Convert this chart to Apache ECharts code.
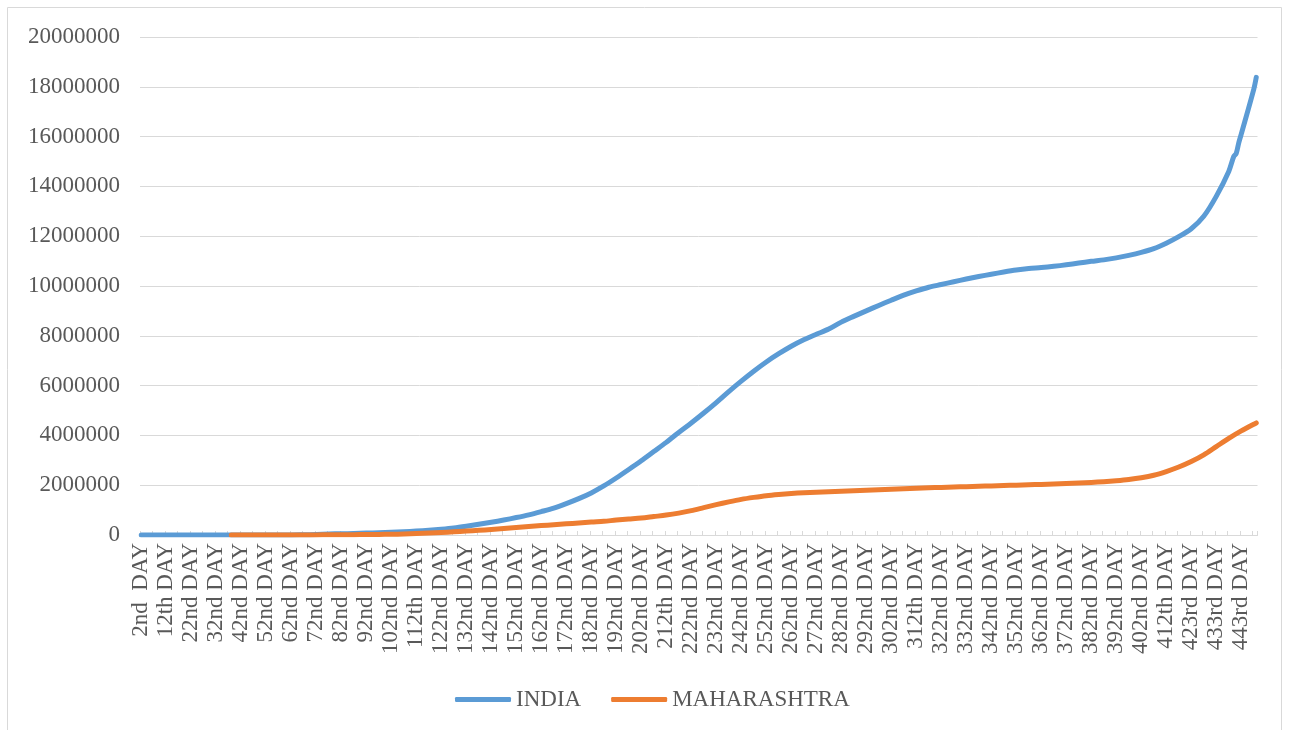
<!DOCTYPE html>
<html>
<head>
<meta charset="utf-8">
<script src="https://cdn.jsdelivr.net/npm/echarts@6/dist/echarts.min.js"></script>
<style>
  html, body { margin: 0; padding: 0; background: #fff; }
  #chart { width: 1289px; height: 730px; }
</style>
</head>
<body>
<div id="chart"></div>
<script>
// day numbers on the x axis (one day is missing between 412th and 423rd)
var dayNums = [];
for (var d = 2; d <= 449; d++) {
  if (d !== 413) dayNums.push(d);
}
function ordinal(n) {
  var t = n % 100;
  if (t >= 11 && t <= 13) return n + 'th';
  if (n % 10 === 1) return n + 'st';
  if (n % 10 === 2) return n + 'nd';
  if (n % 10 === 3) return n + 'rd';
  return n + 'th';
}
var days = dayNums.map(function (n) { return ordinal(n) + ' DAY'; });
days[0] = '2nd  DAY';

// INDIA at every 5th day (index into days)
var indiaIdx = [0, 5, 10, 15, 20, 25, 30, 35, 40, 45, 50, 55, 60, 65, 70, 75, 80, 85, 90, 95,
  100, 105, 110, 115, 120, 125, 130, 135, 140, 145, 150, 155, 160, 165, 170, 175, 180, 185, 190, 195,
  200, 205, 210, 215, 220, 225, 230, 235, 240, 245, 250, 255, 260, 265, 270, 275, 280, 285, 290, 295,
  300, 305, 310, 315, 320, 325, 330, 335, 340, 345, 350, 355, 360, 365, 370, 375, 380, 385, 390, 395,
  400, 405, 410, 415, 420, 425, 430, 435, 437, 438, 439, 440, 445, 446];
var indiaVals = [0, 0, 0, 0, 0, 0, 0, 0, 0, 0, 0, 0, 0, 10000, 20000, 40000, 50000, 60000, 80000, 90000,
  110000, 130000, 160000, 190000, 230000, 280000, 350000, 430000, 510000, 600000, 700000, 810000, 940000, 1080000, 1260000, 1460000, 1690000, 1970000, 2290000, 2630000,
  2980000, 3350000, 3720000, 4120000, 4500000, 4900000, 5320000, 5760000, 6180000, 6580000, 6950000, 7280000, 7580000, 7840000, 8060000, 8270000, 8550000, 8780000, 9000000, 9220000,
  9430000, 9630000, 9800000, 9950000, 10060000, 10170000, 10280000, 10380000, 10470000, 10560000, 10640000, 10700000, 10740000, 10790000, 10850000, 10920000, 10990000, 11050000, 11130000, 11230000,
  11350000, 11500000, 11720000, 11980000, 12300000, 12800000, 13600000, 14600000, 15200000, 15330000, 15750000, 16100000, 17900000, 18380000];

// MAHARASHTRA, starts later
var mhIdx = [36, 40, 45, 50, 55, 60, 65, 70, 75, 80, 85, 90, 95,
  100, 105, 110, 115, 120, 125, 130, 135, 140, 145, 150, 155, 160, 165, 170, 175, 180, 185, 190, 195,
  200, 205, 210, 215, 220, 225, 230, 235, 240, 245, 250, 255, 260, 265, 270, 275, 280, 285, 290, 295,
  300, 305, 310, 315, 320, 325, 330, 335, 340, 345, 350, 355, 360, 365, 370, 375, 380, 385, 390, 395,
  400, 405, 410, 415, 420, 425, 430, 435, 440, 445, 446];
var mhVals = [0, 0, 0, 0, 0, 2000, 3000, 5000, 8000, 10000, 15000, 20000, 25000,
  30000, 40000, 60000, 80000, 100000, 130000, 160000, 190000, 220000, 260000, 300000, 340000, 380000, 410000, 450000, 480000, 520000, 550000, 600000, 640000,
  680000, 740000, 800000, 880000, 980000, 1100000, 1220000, 1330000, 1430000, 1510000, 1580000, 1630000, 1670000, 1700000, 1720000, 1740000, 1760000, 1780000, 1800000, 1820000,
  1840000, 1860000, 1880000, 1900000, 1910000, 1930000, 1940000, 1960000, 1970000, 1990000, 2000000, 2020000, 2030000, 2050000, 2070000, 2090000, 2110000, 2140000, 2180000, 2230000,
  2300000, 2400000, 2550000, 2730000, 2950000, 3220000, 3550000, 3880000, 4180000, 4450000, 4500000];

function pairs(idx, vals) {
  return idx.map(function (x, k) { return [x, vals[k]]; });
}

var chart = echarts.init(document.getElementById('chart'));
var font = "'Liberation Serif', 'Times New Roman', serif";
chart.setOption({
  animation: false,
  color: ['#5B9BD5', '#ED7D31'],
  textStyle: { fontFamily: font },
  graphic: [{
    type: 'rect',
    shape: { x: 7.5, y: 7.5, width: 1274, height: 740 },
    style: { fill: 'none', stroke: '#d9d9d9', lineWidth: 1 },
    silent: true
  }],
  grid: { left: 140, right: 31.5, top: 37, bottom: 195 },
  legend: {
    data: ['INDIA', 'MAHARASHTRA'],
    left: 450,
    top: 683,
    icon: 'roundRect',
    itemWidth: 56,
    itemHeight: 5,
    itemGap: 30,
    textStyle: { fontFamily: font, fontSize: 23, color: '#595959' }
  },
  xAxis: {
    type: 'category',
    data: days,
    boundaryGap: true,
    axisLine: { lineStyle: { color: '#d9d9d9', width: 1 } },
    axisTick: { show: true, inside: true, length: 4, interval: 4, lineStyle: { color: '#d9d9d9' } },
    axisLabel: {
      interval: 9,
      rotate: 90,
      margin: 8,
      fontFamily: font,
      fontSize: 23,
      color: '#595959'
    },
    splitLine: { show: false }
  },
  yAxis: {
    type: 'value',
    min: 0,
    max: 20000000,
    interval: 2000000,
    axisLine: { show: false },
    axisTick: { show: false },
    axisLabel: {
      margin: 20,
      fontFamily: font,
      fontSize: 23,
      color: '#595959',
      formatter: function (v) { return String(v); }
    },
    splitLine: { lineStyle: { color: '#d9d9d9', width: 1 } }
  },
  series: [
    {
      name: 'INDIA',
      type: 'line',
      data: pairs(indiaIdx, indiaVals),
      showSymbol: false,
      smooth: 0.3,
      lineStyle: { width: 5, cap: 'round', join: 'round' }
    },
    {
      name: 'MAHARASHTRA',
      type: 'line',
      data: pairs(mhIdx, mhVals),
      showSymbol: false,
      smooth: 0.3,
      lineStyle: { width: 5, cap: 'round', join: 'round' }
    }
  ]
});
</script>
</body>
</html>
